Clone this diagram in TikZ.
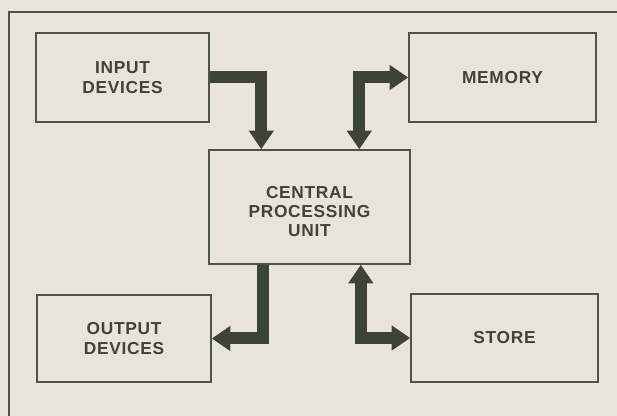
\documentclass[tikz,border=0pt]{standalone}
\usepackage{fontspec}
\setmainfont{Liberation Sans}[LetterSpace=4]
\usetikzlibrary{arrows.meta}
\definecolor{paper}{RGB}{233,228,219}
\definecolor{boxline}{RGB}{78,84,68}
\definecolor{busgrey}{RGB}{62,67,58}
\definecolor{inkgrey}{RGB}{63,67,58}

\begin{document}
\begin{tikzpicture}[x=0.75pt,y=-0.75pt,line join=miter,
  unit/.style={draw=boxline,line width=1.1pt,align=center,inner sep=0pt,
    text=inkgrey,font=\fontsize{13pt}{14.8pt}\selectfont\bfseries},
  bus/.style={draw=busgrey,line width=9pt,
    -{Triangle[width=18pt,length=14pt]}},
  twobus/.style={bus,{Triangle[width=18pt,length=14pt]}-{Triangle[width=18pt,length=14pt]}}]
\useasboundingbox (0,0) rectangle (617,416);
\fill[paper] (0,0) rectangle (617,416);
\draw[boxline,line width=0.9pt] (617,12) -- (9,12) -- (9,416);
% units
\node[unit,minimum width=129.75pt,minimum height=66.75pt] (input) at (122.5,77.5) {INPUT\\DEVICES};
\node[unit,minimum width=140.25pt,minimum height=66.75pt] (memory) at (502.5,77.5) {MEMORY};
\node[unit,minimum width=150.75pt,minimum height=85.5pt,font=\fontsize{13pt}{14pt}\selectfont\bfseries] (cpu) at (309.5,207) {\rule{0pt}{16pt}CENTRAL\\PROCESSING\\UNIT};
\node[unit,minimum width=130.5pt,minimum height=65.25pt] (output) at (124,338.5) {OUTPUT\\DEVICES};
\node[unit,minimum width=140.25pt,minimum height=66pt] (store) at (504.5,338) {STORE};
% buses
\draw[bus] (input.east) -| ([xshift=39.75pt]cpu.north west);
\draw[twobus] ([xshift=113.25pt]cpu.north west) |- (memory.west);
\draw[bus] ([xshift=40.9pt]cpu.south west) |- (output.east);
\draw[twobus] ([xshift=114.4pt]cpu.south west) |- (store.west);
\end{tikzpicture}
\end{document}
